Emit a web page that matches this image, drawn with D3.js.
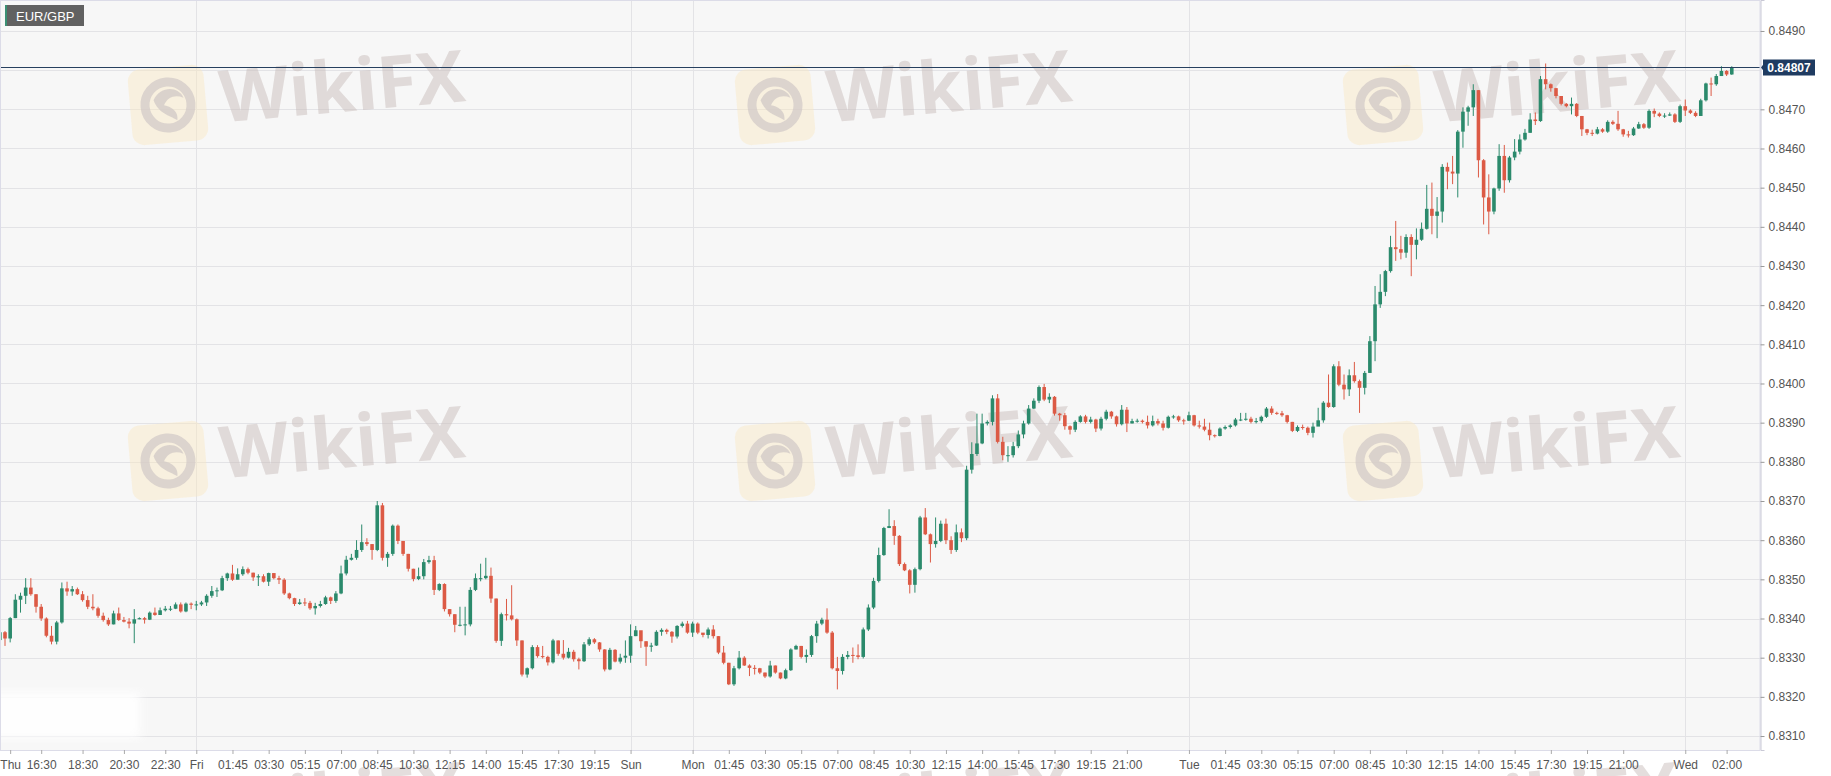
<!DOCTYPE html>
<html><head><meta charset="utf-8">
<script src="https://cdn.jsdelivr.net/npm/d3@7"></script>
<style>html,body{margin:0;padding:0;background:#fff;} svg{display:block;font-family:"Liberation Sans",Arial,sans-serif;}</style>
</head><body><svg id="c" width="1831" height="776"></svg>
<script>
const symbol = "EUR/GBP";
const lastPrice = 0.84807;
const firstOpen = 0.83345;
// 15-minute candles, Thu 14:30 .. Wed 02:15 (weekend removed); open = previous close
const closes = [
0.83365,0.83349,0.83401,0.83448,0.83458,0.83479,0.83462,0.83430,0.83400,0.83356,
0.83341,0.83390,0.83477,0.83469,0.83475,0.83462,0.83447,0.83430,0.83426,0.83407,
0.83396,0.83385,0.83413,0.83396,0.83392,0.83387,0.83398,0.83401,0.83397,0.83415,
0.83409,0.83421,0.83425,0.83425,0.83436,0.83418,0.83438,0.83435,0.83436,0.83441,
0.83458,0.83470,0.83472,0.83503,0.83515,0.83499,0.83513,0.83526,0.83517,0.83505,
0.83508,0.83494,0.83516,0.83503,0.83499,0.83464,0.83452,0.83437,0.83441,0.83440,
0.83426,0.83432,0.83437,0.83454,0.83445,0.83464,0.83515,0.83550,0.83555,0.83575,
0.83595,0.83590,0.83575,0.83689,0.83555,0.83565,0.83637,0.83598,0.83565,0.83527,
0.83501,0.83508,0.83544,0.83549,0.83473,0.83488,0.83424,0.83411,0.83384,0.83384,
0.83385,0.83473,0.83503,0.83503,0.83509,0.83451,0.83343,0.83411,0.83408,0.83398,
0.83344,0.83257,0.83273,0.83327,0.83304,0.83302,0.83288,0.83344,0.83310,0.83300,
0.83315,0.83296,0.83291,0.83334,0.83347,0.83339,0.83321,0.83270,0.83320,0.83290,
0.83300,0.83305,0.83355,0.83370,0.83342,0.83328,0.83331,0.83366,0.83371,0.83366,
0.83354,0.83381,0.83387,0.83364,0.83387,0.83364,0.83358,0.83372,0.83355,0.83313,
0.83287,0.83232,0.83273,0.83300,0.83280,0.83274,0.83273,0.83262,0.83252,0.83280,
0.83262,0.83247,0.83268,0.83321,0.83330,0.83302,0.83307,0.83355,0.83387,0.83397,
0.83364,0.83273,0.83266,0.83302,0.83307,0.83306,0.83302,0.83372,0.83428,0.83496,
0.83562,0.83631,0.83636,0.83611,0.83539,0.83523,0.83486,0.83526,0.83658,0.83615,
0.83590,0.83598,0.83642,0.83600,0.83575,0.83620,0.83605,0.83780,0.83820,0.83847,
0.83898,0.83902,0.83962,0.83851,0.83817,0.83817,0.83840,0.83870,0.83898,0.83936,
0.83956,0.83991,0.83959,0.83966,0.83923,0.83919,0.83891,0.83882,0.83902,0.83916,
0.83902,0.83908,0.83885,0.83910,0.83928,0.83916,0.83896,0.83933,0.83898,0.83904,
0.83905,0.83902,0.83893,0.83904,0.83898,0.83887,0.83915,0.83916,0.83906,0.83905,
0.83919,0.83893,0.83890,0.83882,0.83868,0.83866,0.83885,0.83889,0.83893,0.83908,
0.83908,0.83910,0.83902,0.83904,0.83915,0.83936,0.83925,0.83924,0.83919,0.83902,
0.83879,0.83889,0.83887,0.83874,0.83890,0.83906,0.83951,0.83940,0.84044,0.83997,
0.83985,0.84021,0.84006,0.83989,0.84027,0.84108,0.84202,0.84234,0.84287,0.84348,
0.84343,0.84334,0.84374,0.84354,0.84367,0.84395,0.84446,0.84428,0.84439,0.84553,
0.84541,0.84536,0.84643,0.84694,0.84705,0.84749,0.84570,0.84475,0.84439,0.84498,
0.84581,0.84519,0.84577,0.84592,0.84623,0.84640,0.84674,0.84670,0.84777,0.84764,
0.84754,0.84734,0.84714,0.84708,0.84714,0.84683,0.84649,0.84640,0.84638,0.84649,
0.84643,0.84668,0.84663,0.84649,0.84636,0.84634,0.84651,0.84662,0.84653,0.84696,
0.84689,0.84683,0.84684,0.84687,0.84668,0.84708,0.84697,0.84691,0.84683,0.84723,
0.84766,0.84764,0.84785,0.84798,0.84789,0.84807];
const highs = [
0.83370,0.83368,0.83404,0.83462,0.83466,0.83503,0.83503,0.83462,0.83437,0.83403,
0.83381,0.83394,0.83492,0.83494,0.83483,0.83479,0.83470,0.83458,0.83462,0.83430,
0.83415,0.83402,0.83420,0.83428,0.83404,0.83401,0.83424,0.83403,0.83404,0.83418,
0.83428,0.83428,0.83432,0.83432,0.83441,0.83441,0.83441,0.83441,0.83445,0.83445,
0.83462,0.83483,0.83479,0.83509,0.83517,0.83537,0.83528,0.83533,0.83530,0.83517,
0.83513,0.83513,0.83517,0.83516,0.83509,0.83503,0.83466,0.83453,0.83450,0.83452,
0.83445,0.83440,0.83445,0.83458,0.83456,0.83470,0.83535,0.83560,0.83565,0.83600,
0.83640,0.83605,0.83590,0.83700,0.83695,0.83570,0.83640,0.83640,0.83598,0.83565,
0.83527,0.83530,0.83552,0.83560,0.83560,0.83490,0.83490,0.83424,0.83411,0.83430,
0.83430,0.83480,0.83515,0.83540,0.83555,0.83530,0.83451,0.83415,0.83450,0.83485,
0.83400,0.83344,0.83275,0.83332,0.83332,0.83330,0.83305,0.83348,0.83344,0.83345,
0.83325,0.83320,0.83300,0.83340,0.83352,0.83350,0.83340,0.83322,0.83325,0.83322,
0.83310,0.83344,0.83385,0.83381,0.83362,0.83342,0.83338,0.83370,0.83375,0.83374,
0.83368,0.83383,0.83392,0.83394,0.83392,0.83390,0.83362,0.83377,0.83383,0.83355,
0.83330,0.83287,0.83279,0.83317,0.83304,0.83283,0.83281,0.83274,0.83262,0.83292,
0.83280,0.83262,0.83272,0.83324,0.83333,0.83330,0.83321,0.83358,0.83394,0.83402,
0.83426,0.83368,0.83302,0.83309,0.83317,0.83326,0.83334,0.83377,0.83436,0.83504,
0.83581,0.83634,0.83679,0.83651,0.83613,0.83543,0.83526,0.83530,0.83662,0.83682,
0.83617,0.83658,0.83650,0.83655,0.83610,0.83640,0.83630,0.83790,0.83850,0.83923,
0.83923,0.83906,0.83970,0.83973,0.83864,0.83840,0.83851,0.83880,0.83905,0.83945,
0.83962,0.83995,0.83999,0.83975,0.83968,0.83925,0.83925,0.83893,0.83906,0.83919,
0.83920,0.83915,0.83910,0.83915,0.83933,0.83930,0.83918,0.83945,0.83940,0.83910,
0.83910,0.83908,0.83918,0.83918,0.83910,0.83905,0.83918,0.83920,0.83918,0.83910,
0.83928,0.83920,0.83905,0.83910,0.83900,0.83870,0.83888,0.83893,0.83896,0.83912,
0.83925,0.83925,0.83915,0.83912,0.83918,0.83940,0.83942,0.83928,0.83930,0.83920,
0.83902,0.83893,0.83895,0.83890,0.83900,0.83938,0.83955,0.84023,0.84049,0.84057,
0.84023,0.84036,0.84055,0.84010,0.84032,0.84121,0.84249,0.84279,0.84290,0.84377,
0.84415,0.84377,0.84381,0.84381,0.84396,0.84411,0.84507,0.84513,0.84476,0.84560,
0.84564,0.84581,0.84647,0.84705,0.84709,0.84764,0.84749,0.84573,0.84534,0.84500,
0.84611,0.84609,0.84581,0.84624,0.84636,0.84650,0.84690,0.84692,0.84785,0.84817,
0.84766,0.84755,0.84734,0.84716,0.84730,0.84716,0.84683,0.84650,0.84648,0.84655,
0.84652,0.84672,0.84672,0.84696,0.84650,0.84645,0.84655,0.84668,0.84665,0.84700,
0.84702,0.84692,0.84690,0.84692,0.84690,0.84712,0.84725,0.84700,0.84695,0.84727,
0.84768,0.84781,0.84790,0.84810,0.84800,0.84810];
const lows = [
0.83330,0.83330,0.83339,0.83401,0.83415,0.83437,0.83458,0.83415,0.83394,0.83352,
0.83334,0.83334,0.83387,0.83458,0.83458,0.83460,0.83443,0.83424,0.83421,0.83402,
0.83392,0.83381,0.83385,0.83394,0.83390,0.83375,0.83337,0.83398,0.83387,0.83396,
0.83407,0.83409,0.83418,0.83419,0.83424,0.83415,0.83416,0.83424,0.83421,0.83432,
0.83432,0.83453,0.83455,0.83470,0.83496,0.83496,0.83500,0.83509,0.83513,0.83496,
0.83483,0.83492,0.83483,0.83500,0.83488,0.83460,0.83449,0.83432,0.83435,0.83432,
0.83422,0.83410,0.83428,0.83435,0.83437,0.83440,0.83462,0.83510,0.83548,0.83550,
0.83570,0.83585,0.83550,0.83572,0.83548,0.83532,0.83560,0.83590,0.83560,0.83520,
0.83495,0.83498,0.83500,0.83540,0.83460,0.83470,0.83418,0.83405,0.83365,0.83380,
0.83357,0.83380,0.83470,0.83495,0.83500,0.83440,0.83338,0.83330,0.83395,0.83395,
0.83330,0.83252,0.83249,0.83270,0.83300,0.83298,0.83280,0.83285,0.83305,0.83295,
0.83298,0.83290,0.83270,0.83289,0.83330,0.83335,0.83315,0.83265,0.83268,0.83288,
0.83285,0.83287,0.83287,0.83355,0.83325,0.83279,0.83315,0.83330,0.83356,0.83360,
0.83338,0.83349,0.83377,0.83361,0.83353,0.83360,0.83352,0.83349,0.83349,0.83309,
0.83283,0.83230,0.83228,0.83270,0.83279,0.83253,0.83257,0.83258,0.83248,0.83249,
0.83259,0.83245,0.83245,0.83266,0.83321,0.83298,0.83287,0.83302,0.83338,0.83383,
0.83361,0.83270,0.83219,0.83257,0.83296,0.83287,0.83296,0.83298,0.83368,0.83424,
0.83492,0.83560,0.83631,0.83588,0.83534,0.83521,0.83464,0.83466,0.83523,0.83613,
0.83543,0.83581,0.83595,0.83590,0.83565,0.83570,0.83595,0.83600,0.83770,0.83815,
0.83845,0.83893,0.83893,0.83847,0.83804,0.83800,0.83811,0.83835,0.83860,0.83895,
0.83935,0.83950,0.83955,0.83950,0.83918,0.83905,0.83882,0.83870,0.83876,0.83900,
0.83898,0.83898,0.83876,0.83880,0.83906,0.83910,0.83890,0.83893,0.83876,0.83898,
0.83900,0.83898,0.83885,0.83890,0.83893,0.83880,0.83885,0.83910,0.83902,0.83895,
0.83904,0.83890,0.83885,0.83878,0.83855,0.83862,0.83865,0.83882,0.83885,0.83890,
0.83904,0.83905,0.83898,0.83898,0.83900,0.83912,0.83920,0.83920,0.83915,0.83898,
0.83876,0.83876,0.83882,0.83868,0.83862,0.83895,0.83900,0.83938,0.83938,0.83993,
0.83959,0.83968,0.84002,0.83925,0.83972,0.84027,0.84057,0.84193,0.84223,0.84283,
0.84313,0.84317,0.84321,0.84274,0.84317,0.84364,0.84393,0.84381,0.84371,0.84411,
0.84496,0.84509,0.84475,0.84602,0.84658,0.84683,0.84526,0.84406,0.84381,0.84432,
0.84492,0.84487,0.84513,0.84570,0.84585,0.84620,0.84640,0.84660,0.84668,0.84751,
0.84745,0.84728,0.84710,0.84705,0.84687,0.84680,0.84632,0.84634,0.84632,0.84636,
0.84640,0.84640,0.84660,0.84645,0.84630,0.84628,0.84632,0.84650,0.84650,0.84650,
0.84680,0.84680,0.84678,0.84683,0.84665,0.84665,0.84683,0.84688,0.84680,0.84683,
0.84720,0.84734,0.84760,0.84785,0.84785,0.84788];
const gridValues = [0.8310,0.8320,0.8330,0.8340,0.8350,0.8360,0.8370,0.8380,0.8390,0.8400,
                    0.8410,0.8420,0.8430,0.8440,0.8450,0.8460,0.8470,0.8480,0.8490];
// 0.8480 label is hidden behind the last-price tag in the original
const yTickValues = [0.8310,0.8320,0.8330,0.8340,0.8350,0.8360,0.8370,0.8380,0.8390,0.8400,
                     0.8410,0.8420,0.8430,0.8440,0.8450,0.8460,0.8470,0.8490];
const xTickSlots = [2,8,16,24,32,38,45,52,59,66,73,80,87,94,101,108,115,122,
                    134,141,148,155,162,169,176,183,190,197,204,211,218,
                    230,237,244,251,258,265,272,279,286,293,300,307,314,326,334];
const xTickLabels = ["Thu","16:30","18:30","20:30","22:30","Fri","01:45","03:30","05:15","07:00","08:45","10:30","12:15","14:00","15:45","17:30","19:15","Sun",
                     "Mon","01:45","03:30","05:15","07:00","08:45","10:30","12:15","14:00","15:45","17:30","19:15","21:00",
                     "Tue","01:45","03:30","05:15","07:00","08:45","10:30","12:15","14:00","15:45","17:30","19:15","21:00","Wed","02:00"];
const dayBoundarySlots = [38,122,134,230,326];

const data = closes.map((c,i)=>({i, o: i===0 ? firstOpen : closes[i-1], c, h: highs[i], l: lows[i]}));

const svg = d3.select("#c");
const plotL = 0, plotR = 1760, plotT = 0, plotB = 750;
const x = d3.scaleLinear().domain([0,340]).range([-0.17, -0.17 + 5.17*340]);
const y = d3.scaleLinear().domain([0.830643,0.849791]).range([plotB, plotT]);

svg.append("rect").attr("x",0).attr("y",0).attr("width",1831).attr("height",776).attr("fill","#fff");
svg.append("rect").attr("x",plotL).attr("y",plotT).attr("width",plotR-plotL).attr("height",plotB-plotT).attr("fill","#f7f7f7");

const defs = svg.append("defs");
defs.append("clipPath").attr("id","plotclip").append("rect").attr("x",plotL).attr("y",plotT).attr("width",plotR-plotL).attr("height",plotB-plotT);
defs.append("filter").attr("id","blur").append("feGaussianBlur").attr("stdDeviation",5);

// grid
const grid = svg.append("g");
grid.selectAll("line.h").data(gridValues).join("line")
  .attr("x1",plotL).attr("x2",plotR).attr("y1",d=>Math.round(y(d))+0.5).attr("y2",d=>Math.round(y(d))+0.5)
  .attr("stroke","#e3e3e6").attr("stroke-width",1);
grid.selectAll("line.v").data(dayBoundarySlots).join("line")
  .attr("x1",d=>Math.round(x(d))+0.5).attr("x2",d=>Math.round(x(d))+0.5).attr("y1",plotT).attr("y2",plotB)
  .attr("stroke","#e3e3e6").attr("stroke-width",1);

// faint blurred patch bottom-left
svg.append("rect").attr("x",-10).attr("y",692).attr("width",150).attr("height",46).attr("fill","#fff").attr("opacity",0.9).attr("filter","url(#blur)");

// watermarks
function watermark(cx, cy){
  const g = svg.append("g").attr("transform",`translate(${cx},${cy}) rotate(-5)`);
  g.append("rect").attr("x",-38).attr("y",-38).attr("width",76).attr("height",76).attr("rx",12)
    .attr("fill","rgb(250,232,190)").attr("opacity",0.42);
  g.append("circle").attr("r",23).attr("fill","none").attr("stroke","rgb(208,200,198)").attr("stroke-width",9).attr("opacity",0.7);
  g.append("path").attr("d","M-14,-6 C-6,-20 12,-18 16,-6 C8,-10 0,-8 -4,0 C4,2 10,8 8,16 C0,10 -10,8 -14,-6 Z")
    .attr("fill","rgb(208,200,198)").attr("opacity",0.75);
  g.append("text").attr("x",52).attr("y",22).text("WikiFX")
    .attr("font-family","'Open Sans','DejaVu Sans',sans-serif").attr("font-weight","bold").attr("font-size",72)
    .attr("fill","rgb(200,188,186)").attr("opacity",0.48);
}
[105, 461, 817].forEach(cy => [168, 775, 1383].forEach(cx => watermark(cx, cy)));

// candles
const cg = svg.append("g").attr("clip-path","url(#plotclip)");
const green = "#2b8a6c", red = "#dc5a45";
const bw = 3.6;
const cand = cg.selectAll("g.c").data(data).join("g");
cand.append("line")
  .attr("x1",d=>x(d.i)).attr("x2",d=>x(d.i))
  .attr("y1",d=>y(d.h)).attr("y2",d=>y(d.l))
  .attr("stroke",d=>d.c>=d.o?green:red).attr("stroke-width",1);
cand.append("rect")
  .attr("x",d=>x(d.i)-bw/2).attr("width",bw)
  .attr("y",d=>y(Math.max(d.o,d.c)))
  .attr("height",d=>Math.max(1, Math.abs(y(d.o)-y(d.c))))
  .attr("fill",d=>d.c>=d.o?green:red);

// last price line
svg.append("line").attr("x1",plotL).attr("x2",plotR).attr("y1",Math.round(y(lastPrice))+0.5).attr("y2",Math.round(y(lastPrice))+0.5)
  .attr("stroke","#27405f").attr("stroke-width",1);

// plot border
svg.append("rect").attr("x",0.5).attr("y",0.5).attr("width",plotR-0.5).attr("height",plotB).attr("fill","none").attr("stroke","#dcdce8");

// right axis
const yAxis = d3.axisRight(y).tickValues(yTickValues).tickFormat(d3.format(".4f")).tickSize(4).tickPadding(4);
const ya = svg.append("g").attr("transform",`translate(${plotR+0.5},0)`).call(yAxis);
ya.select(".domain").attr("stroke","#c9c9d6");
ya.selectAll(".tick line").attr("stroke","#999");
ya.selectAll(".tick text").attr("fill","#555").attr("font-size",12).attr("font-family","'Liberation Sans',Arial,sans-serif");

// bottom axis
const xAxis = d3.axisBottom(x).tickValues(xTickSlots).tickFormat((d,i)=>xTickLabels[i]).tickSize(4).tickPadding(6);
const xa = svg.append("g").attr("transform",`translate(0,${plotB})`).call(xAxis);
xa.select(".domain").remove();
xa.selectAll(".tick line").attr("stroke","#aaa");
xa.selectAll(".tick text").attr("fill","#555").attr("font-size",12).attr("font-family","'Liberation Sans',Arial,sans-serif");

// price tag
const py = Math.round(y(lastPrice))+0.5;
const tag = svg.append("g");
tag.append("path").attr("d",`M${plotR+1},${py} L${plotR+4},${py-4} L${plotR+4},${py+4} Z`).attr("fill","#1f3b61");
tag.append("rect").attr("x",plotR+3).attr("y",py-8).attr("width",52).attr("height",16).attr("fill","#1f3b61");
tag.append("text").attr("x",plotR+29).attr("y",py+4.5).attr("text-anchor","middle").text(lastPrice.toFixed(5))
  .attr("fill","#fff").attr("font-weight","bold").attr("font-size",12).attr("font-family","'Liberation Sans',Arial,sans-serif");

// symbol label
const lab = svg.append("g");
lab.append("rect").attr("x",5).attr("y",5).attr("width",79).attr("height",21).attr("fill","#616161");
lab.append("rect").attr("x",5).attr("y",5).attr("width",2).attr("height",21).attr("fill","#3a8f73");
lab.append("text").attr("x",16).attr("y",20.5).text(symbol).attr("fill","#fff").attr("font-size",13)
  .attr("font-family","'Liberation Sans',Arial,sans-serif");
</script></body></html>
